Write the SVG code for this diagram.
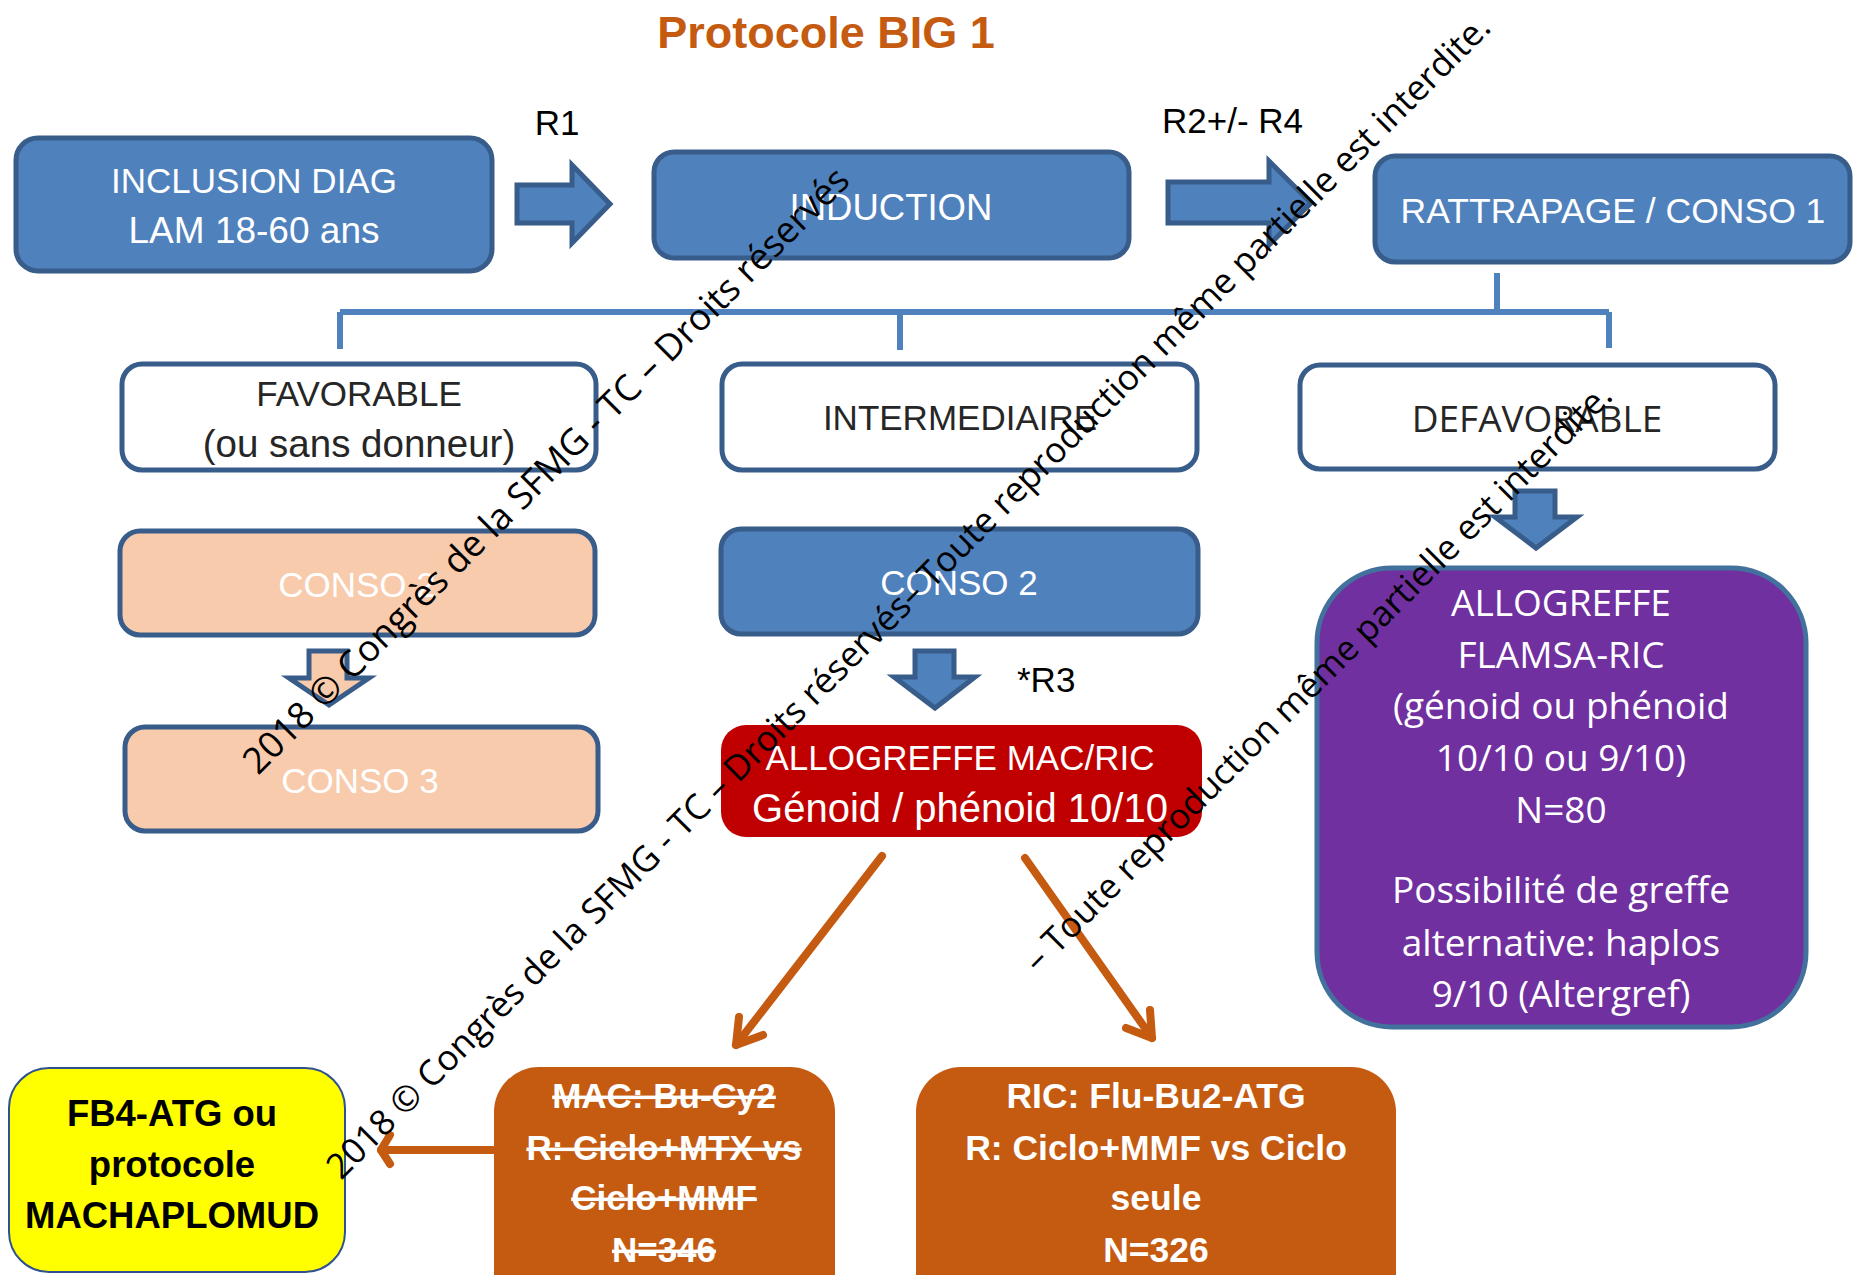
<svg xmlns="http://www.w3.org/2000/svg" width="1855" height="1275" viewBox="0 0 1855 1275">
<defs>
<style>
.blue{fill:#4F81BD;stroke:#385D8A;stroke-width:5}
.white{fill:#FFFFFF;stroke:#385D8A;stroke-width:5}
.peach{fill:#F8CBAD;stroke:#385D8A;stroke-width:5}
.red{fill:#C00000}
.orange{fill:#C55A11}
.purple{fill:#7030A0;stroke:#41719C;stroke-width:5}
.yellow{fill:#FFFF00;stroke:#2F528F;stroke-width:2}
.t{font-family:"Liberation Sans",Arial,sans-serif;text-anchor:middle}
.o{font-family:"Open Sans","DejaVu Sans",sans-serif;text-anchor:middle}
.w{fill:#FFFFFF}
.k{fill:#262626}
.b{font-weight:bold}
.lbl{font-family:"Liberation Sans",Arial,sans-serif;font-size:35px;fill:#000000}
.conn{fill:none;stroke:#4F81BD;stroke-width:6}
.oarr{fill:none;stroke:#C55A11;stroke-width:8;stroke-linecap:round;stroke-linejoin:round}
.wm{font-family:"Open Sans","DejaVu Sans",sans-serif;fill:#000000}
.strike{text-decoration:line-through}
</style>
</defs>
<rect width="1855" height="1275" fill="#FFFFFF"/>

<text x="826" y="48" class="t b" font-size="45" fill="#C55A11">Protocole BIG 1</text>

<g id="connectors">
<path class="conn" d="M1497,273 V312 M340,312 H1609 M340,312 V349 M900,312 V350 M1609,312 V348"/>
<polyline class="oarr" points="882,856 736,1045"/>
<polyline class="oarr" points="739,1017 736,1045 763,1035"/>
<polyline class="oarr" points="1025,858 1152,1038"/>
<polyline class="oarr" points="1150,1010 1152,1038 1126,1028"/>
<polyline class="oarr" points="493,1150 381,1150"/>
<polyline class="oarr" points="390,1135 381,1150 390,1164"/>
</g>

<g id="arrow-r1">
<polygon class="blue" stroke-width="4" points="517,185 572,185 572,165 610,204 572,243 572,223 517,223"/>
<text x="557" y="135" class="lbl" text-anchor="middle">R1</text>
</g>
<g id="arrow-r2">
<polygon class="blue" stroke-width="4" points="1168,182 1269,182 1269,161 1311,203 1269,245 1269,223 1168,223"/>
<text x="1162" y="133" class="lbl">R2+/- R4</text>
</g>

<g id="inclusion">
<rect class="blue" x="16" y="138" width="476" height="133" rx="22"/>
<text class="t w" font-size="35" x="254" y="193">INCLUSION DIAG</text>
<text class="t w" font-size="37" x="254" y="243">LAM 18-60 ans</text>
</g>
<g id="induction">
<rect class="blue" x="654" y="152" width="475" height="106" rx="20"/>
<text class="t w" font-size="36.5" x="891" y="220">INDUCTION</text>
</g>
<g id="rattrapage">
<rect class="blue" x="1375" y="156" width="475" height="106" rx="20"/>
<text class="t w" font-size="35.5" x="1613" y="223">RATTRAPAGE / CONSO 1</text>
</g>

<g id="favorable">
<rect class="white" x="122" y="364" width="474" height="106" rx="20"/>
<text class="t k" font-size="35" x="359" y="406">FAVORABLE</text>
<text class="t k" font-size="38.5" x="359" y="457">(ou sans donneur)</text>
</g>
<g id="intermediaire">
<rect class="white" x="722" y="364" width="475" height="106" rx="20"/>
<text class="t k" font-size="35" x="960" y="430">INTERMEDIAIRE</text>
</g>
<g id="defavorable">
<rect class="white" x="1300" y="365" width="475" height="104" rx="20"/>
<text class="o k" font-size="37" x="1537" y="432">DEFAVORABLE</text>
</g>

<g id="conso2-fav">
<rect class="peach" x="120" y="531" width="475" height="104" rx="20"/>
<text class="t w" font-size="35" x="357" y="597">CONSO 2</text>
</g>
<g id="arrow-fav">
<polygon class="peach" stroke-width="4" points="309,651 347,651 347,678 369,678 329,705 289,678 309,678"/>
</g>
<g id="conso3">
<rect class="peach" x="125" y="727" width="473" height="104" rx="20"/>
<text class="t w" font-size="35" x="360" y="793">CONSO 3</text>
</g>

<g id="conso2-int">
<rect class="blue" x="721" y="529" width="477" height="105" rx="20"/>
<text class="t w" font-size="35" x="959" y="595">CONSO 2</text>
</g>
<g id="arrow-int">
<polygon class="blue" stroke-width="4" points="915,651 954,651 954,677 975,677 935,708 894,677 915,677"/>
<text x="1017" y="692" class="lbl">*R3</text>
</g>
<g id="allo-mac-ric">
<rect class="red" x="721" y="725" width="481" height="112" rx="25"/>
<text class="t w" font-size="35" x="960" y="770">ALLOGREFFE MAC/RIC</text>
<text class="t w" font-size="40" x="960" y="822">Génoid / phénoid 10/10</text>
</g>

<g id="arrow-def">
<polygon class="blue" stroke-width="4" points="1515,491 1555,491 1555,517 1577,517 1536,548 1495,517 1515,517"/>
</g>
<g id="allo-flamsa">
<rect class="purple" x="1317" y="568" width="489" height="459" rx="75"/>
<g class="o w" font-size="37">
<text x="1561" y="616">ALLOGREFFE</text>
<text x="1561" y="668">FLAMSA-RIC</text>
<text x="1561" y="719">(génoid ou phénoid</text>
<text x="1561" y="771">10/10 ou 9/10)</text>
<text x="1561" y="823">N=80</text>
<text x="1561" y="903">Possibilité de greffe</text>
<text x="1561" y="956">alternative: haplos</text>
<text x="1561" y="1007">9/10 (Altergref)</text>
</g>
</g>

<g id="fb4">
<rect class="yellow" x="9" y="1068" width="336" height="204" rx="40"/>
<g class="t b" font-size="36.5" fill="#000000">
<text x="172" y="1126">FB4-ATG ou</text>
<text x="172" y="1177">protocole</text>
<text x="172" y="1228">MACHAPLOMUD</text>
</g>
</g>
<g id="mac">
<rect class="orange" x="494" y="1067" width="341" height="260" rx="45"/>
<g class="t b w strike" font-size="35">
<text x="664" y="1108">MAC: Bu-Cy2</text>
<text x="664" y="1160">R: Ciclo+MTX vs</text>
<text x="664" y="1210">Ciclo+MMF</text>
<text x="664" y="1262">N=346</text>
</g>
</g>
<g id="ric">
<rect class="orange" x="916" y="1067" width="480" height="260" rx="45"/>
<g class="t b w" font-size="35.5">
<text x="1156" y="1108">RIC: Flu-Bu2-ATG</text>
<text x="1156" y="1160">R: Ciclo+MMF vs Ciclo</text>
<text x="1156" y="1210">seule</text>
<text x="1156" y="1262">N=326</text>
</g>
</g>

<g id="watermark" class="wm">
<text font-size="36.5" transform="translate(258,776) rotate(-45)">2018 © Congrès de la SFMG - TC –  Droits réservés</text>
<text font-size="35.2" transform="translate(341,1181) rotate(-45)">2018 © Congrès de la SFMG - TC –  Droits réservés– Toute reproduction même partielle est interdite.</text>
<text font-size="35" transform="translate(1038,974) rotate(-45)">– Toute reproduction même partielle est interdite.</text>
</g>
</svg>
